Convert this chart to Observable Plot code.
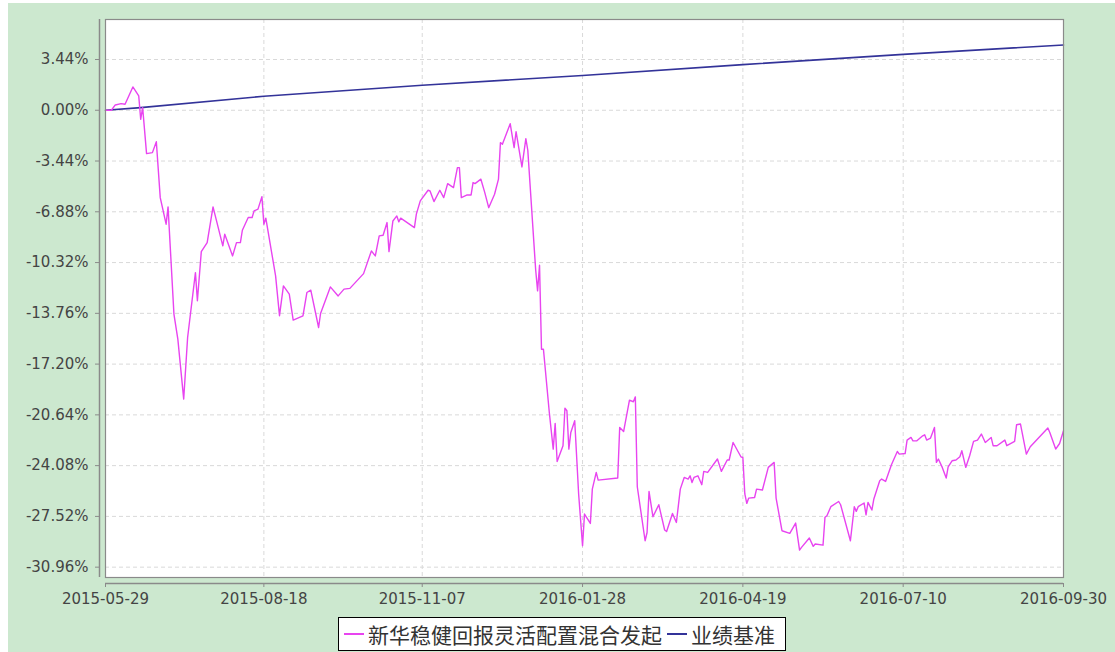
<!DOCTYPE html>
<html>
<head>
<meta charset="utf-8">
<script src="https://cdn.jsdelivr.net/npm/d3@7"></script>
<script src="https://cdn.jsdelivr.net/npm/@observablehq/plot@0.6"></script>
<style>
  html, body { margin: 0; padding: 0; width: 1115px; height: 652px; overflow: hidden; background: #fff; }
  #bg { position: absolute; left: 8px; top: 3px; width: 1107px; height: 649px; background: #cce8cf; }
  #chart { position: absolute; left: 0; top: 0; }
  #legend { position: absolute; left: 338px; top: 617px; width: 446px; height: 32px; border: 1px solid #000; background: #fff;
            display: flex; align-items: center; font-family: "Noto Sans CJK SC", sans-serif; font-size: 21px; color: #333; white-space: nowrap; }
  .sw { display: inline-block; width: 20px; height: 2px; margin: 0 4px 0 5px; }
</style>
</head>
<body>
<div id="bg"></div>
<div id="chart"></div>
<div id="legend"></div>
<script>
const seriesNames = ["新华稳健回报灵活配置混合发起", "业绩基准"];
const seriesColors = ["#e844f0", "#333399"];

const fundDates = [
"2015-05-29","2015-06-01","2015-06-03","2015-06-06","2015-06-08","2015-06-12","2015-06-15","2015-06-16","2015-06-17","2015-06-19",
"2015-06-22","2015-06-24","2015-06-26","2015-06-29","2015-06-30","2015-07-03","2015-07-05","2015-07-08","2015-07-10","2015-07-14",
"2015-07-15","2015-07-17","2015-07-20","2015-07-23","2015-07-28","2015-07-29","2015-08-02","2015-08-04","2015-08-06","2015-08-07",
"2015-08-10","2015-08-12","2015-08-13","2015-08-15","2015-08-17","2015-08-18","2015-08-19","2015-08-24","2015-08-26","2015-08-28",
"2015-08-31","2015-09-02","2015-09-07","2015-09-09","2015-09-11","2015-09-15","2015-09-16","2015-09-21","2015-09-25","2015-09-28",
"2015-10-01","2015-10-08","2015-10-12","2015-10-14","2015-10-16","2015-10-18","2015-10-20","2015-10-21","2015-10-23","2015-10-25",
"2015-10-26","2015-10-27","2015-11-03","2015-11-04","2015-11-06","2015-11-10","2015-11-11","2015-11-13","2015-11-16","2015-11-18",
"2015-11-20","2015-11-23","2015-11-25","2015-11-26","2015-11-27","2015-11-30","2015-12-02","2015-12-03","2015-12-04","2015-12-07",
"2015-12-09","2015-12-11","2015-12-14","2015-12-16","2015-12-17","2015-12-18","2015-12-22","2015-12-24","2015-12-25","2015-12-28",
"2015-12-30","2015-12-31","2016-01-04","2016-01-05","2016-01-06","2016-01-07","2016-01-08","2016-01-11","2016-01-13","2016-01-14",
"2016-01-15","2016-01-18","2016-01-19","2016-01-20","2016-01-21","2016-01-22","2016-01-24","2016-01-26","2016-01-28","2016-01-29",
"2016-02-01","2016-02-02","2016-02-04","2016-02-05","2016-02-15","2016-02-16","2016-02-18","2016-02-21","2016-02-23","2016-02-24",
"2016-02-25","2016-02-29","2016-03-01","2016-03-02","2016-03-04","2016-03-07","2016-03-10","2016-03-11","2016-03-14","2016-03-16",
"2016-03-18","2016-03-20","2016-03-22","2016-03-23","2016-03-24","2016-03-25","2016-03-27","2016-03-29","2016-03-30","2016-04-01",
"2016-04-06","2016-04-08","2016-04-11","2016-04-12","2016-04-14","2016-04-18","2016-04-19","2016-04-20","2016-04-21","2016-04-22",
"2016-04-25","2016-04-26","2016-04-29","2016-05-02","2016-05-05","2016-05-06","2016-05-09","2016-05-13","2016-05-16","2016-05-18",
"2016-05-19","2016-05-23","2016-05-25","2016-05-26","2016-05-30","2016-05-31","2016-06-01","2016-06-03","2016-06-07","2016-06-08",
"2016-06-13","2016-06-15","2016-06-16","2016-06-17","2016-06-20","2016-06-21","2016-06-22","2016-06-24","2016-06-25","2016-06-28",
"2016-06-29","2016-07-01","2016-07-04","2016-07-07","2016-07-08","2016-07-11","2016-07-12","2016-07-14","2016-07-15","2016-07-17",
"2016-07-20","2016-07-21","2016-07-22","2016-07-24","2016-07-26","2016-07-27","2016-07-28","2016-07-30","2016-08-01","2016-08-02",
"2016-08-04","2016-08-06","2016-08-08","2016-08-09","2016-08-11","2016-08-13","2016-08-15","2016-08-17","2016-08-19","2016-08-21",
"2016-08-24","2016-08-25","2016-08-27","2016-08-31","2016-09-01","2016-09-05","2016-09-06","2016-09-08","2016-09-11","2016-09-13",
"2016-09-22","2016-09-23","2016-09-26","2016-09-28","2016-09-30"
];
const fundValues = [
0.00,0.00,0.36,0.45,0.41,1.58,0.97,-0.61,0.18,-2.94,
-2.87,-2.13,-5.92,-7.72,-6.55,-13.81,-15.51,-19.57,-15.40,-11.00,
-12.91,-9.58,-8.97,-6.55,-9.19,-8.40,-9.87,-8.97,-8.97,-8.13,
-7.27,-7.27,-6.82,-6.70,-5.85,-7.72,-7.31,-11.22,-13.92,-11.90,
-12.46,-14.22,-13.93,-12.35,-12.19,-14.72,-13.77,-11.97,-12.58,-12.12,
-12.07,-11.07,-9.53,-9.87,-8.51,-8.47,-7.61,-9.58,-7.50,-7.16,
-7.56,-7.31,-7.95,-7.04,-6.14,-5.42,-5.47,-6.19,-5.42,-5.92,
-4.97,-5.24,-3.89,-3.89,-5.92,-5.74,-5.74,-4.90,-4.97,-4.67,
-5.58,-6.60,-5.69,-4.67,-2.19,-2.30,-0.91,-2.53,-1.45,-3.84,
-1.92,-2.71,-10.77,-12.24,-10.50,-16.19,-16.19,-20.48,-22.96,-21.22,
-23.80,-22.73,-20.18,-20.36,-22.96,-21.83,-21.04,-26.00,-29.51,-27.36,
-28.00,-25.67,-24.54,-25.06,-24.92,-21.49,-21.77,-19.64,-19.75,-19.42,
-25.51,-29.17,-28.61,-25.83,-27.54,-26.73,-28.44,-28.54,-27.32,-27.93,
-25.67,-24.88,-24.99,-24.77,-25.22,-24.88,-24.77,-25.37,-24.47,-24.54,
-23.63,-24.47,-23.70,-23.70,-22.51,-23.48,-23.53,-26.00,-26.64,-26.28,
-26.24,-25.67,-25.73,-24.20,-23.86,-26.28,-28.49,-28.67,-27.97,-29.80,
-29.62,-28.98,-29.55,-29.39,-29.47,-27.58,-27.47,-26.86,-26.51,-26.73,
-29.17,-26.86,-27.18,-26.86,-26.61,-27.41,-26.57,-27.09,-26.34,-25.10,
-24.99,-25.15,-24.02,-23.12,-23.30,-23.26,-22.35,-22.17,-22.40,-22.40,
-22.06,-21.99,-22.35,-22.21,-21.49,-23.86,-23.63,-24.20,-24.92,-24.16,
-23.75,-23.70,-23.48,-23.07,-24.20,-23.41,-22.44,-22.35,-21.94,-22.51,
-22.17,-22.73,-22.73,-22.35,-22.73,-22.44,-21.31,-21.26,-23.30,-22.80,
-21.53,-21.83,-22.96,-22.58,-21.72
];

const benchDates = ["2015-05-29","2015-06-16","2015-08-18","2015-11-07","2016-01-28","2016-04-19","2016-07-10","2016-09-30"];
const benchValues = [0.00, 0.18, 0.95, 1.69, 2.36, 3.09, 3.79, 4.42];

const yTickValues = [-30.96, -27.52, -24.08, -20.64, -17.20, -13.76, -10.32, -6.88, -3.44, 0.00, 3.44];
const xTickLabels = ["2015-05-29","2015-08-18","2015-11-07","2016-01-28","2016-04-19","2016-07-10","2016-09-30"];

const parse = d3.utcParse("%Y-%m-%d");
const fund = fundDates.map((d, i) => ({date: parse(d), value: fundValues[i]}));
const bench = benchDates.map((d, i) => ({date: parse(d), value: benchValues[i]}));
const xTicks = xTickLabels.map(parse);

const chart = Plot.plot({
  width: 1115,
  height: 610,
  marginLeft: 105,
  marginRight: 52,
  marginTop: 19,
  marginBottom: 33,
  style: {background: "transparent", fontFamily: "DejaVu Sans, sans-serif", fontSize: "15px", color: "#444", overflow: "visible"},
  x: {type: "utc", domain: [xTicks[0], xTicks[xTicks.length - 1]], axis: null, label: null},
  y: {domain: [-31.66, 6.15], axis: null, label: null},
  marks: [
    Plot.frame({fill: "#fff", stroke: null}),
    Plot.gridY(yTickValues, {stroke: "#d9d9d9", strokeOpacity: 1, strokeDasharray: "4,3"}),
    Plot.gridX(xTicks, {stroke: "#d9d9d9", strokeOpacity: 1, strokeDasharray: "4,3"}),
    Plot.line(bench, {x: "date", y: "value", stroke: seriesColors[1], strokeWidth: 1.6}),
    Plot.line(fund, {x: "date", y: "value", stroke: seriesColors[0], strokeWidth: 1.4}),
    Plot.frame({stroke: "#8a8a8a", strokeWidth: 1.2}),
    Plot.ruleX([xTicks[0]], {dx: -6, stroke: "#8a8a8a", strokeWidth: 1.5}),
    Plot.ruleY([-31.66], {dy: 6, stroke: "#8a8a8a", strokeWidth: 1.5}),
    Plot.axisY(yTickValues, {anchor: "left", label: null, dx: -6, tickSize: 4, tickPadding: 7, stroke: "#8a8a8a", fill: "#444",
      tickFormat: d => d.toFixed(2) + "%"}),
    Plot.axisX(xTicks, {anchor: "bottom", label: null, dy: 6, tickSize: 4, tickPadding: 6, stroke: "#8a8a8a", fill: "#444",
      tickFormat: d3.utcFormat("%Y-%m-%d")})
  ]
});
document.getElementById("chart").appendChild(chart);

const legend = document.getElementById("legend");
seriesNames.forEach((name, i) => {
  const sw = document.createElement("span");
  sw.className = "sw";
  sw.style.background = seriesColors[i];
  legend.appendChild(sw);
  const t = document.createElement("span");
  t.textContent = name;
  legend.appendChild(t);
});
</script>
</body>
</html>
